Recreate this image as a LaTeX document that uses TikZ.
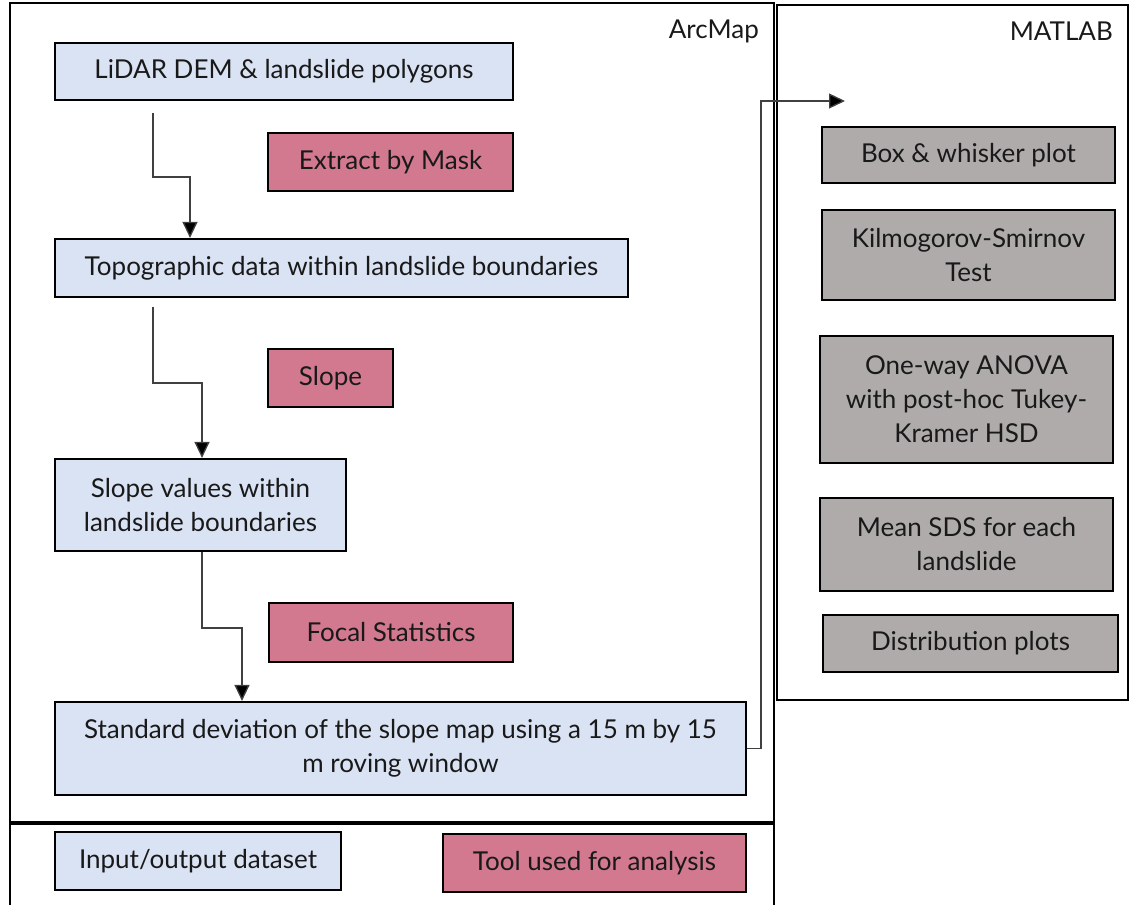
\documentclass[tikz,border=0pt]{standalone}
\usepackage{fontspec}
\setmainfont{Lato}
\usetikzlibrary{arrows.meta,calc}
\definecolor{ioblue}{RGB}{218,227,243}
\definecolor{toolpink}{RGB}{210,121,143}
\definecolor{matgray}{RGB}{175,171,171}
\begin{document}
\begin{tikzpicture}[x=1pt,y=-1pt,
  base/.style={draw=black,line width=2.2pt,rectangle,inner sep=0pt,align=center,
    font=\fontsize{26}{34}\selectfont,text=black!90},
  iobox/.style={base,fill=ioblue},
  toolbox/.style={base,fill=toolpink},
  matbox/.style={base,fill=matgray},
  frame/.style={draw=black,line width=2.6pt},
  conn/.style={draw=black!75,line width=1.3pt,-{Triangle[length=16pt,width=15pt,fill=black]}},
  lbl/.style={font=\fontsize{26}{34}\selectfont,anchor=east,inner sep=0pt,text=black!90}]
\useasboundingbox (0,0) rectangle (1134,905);
% frames
\draw[frame] (10,3) rectangle (774,823);
\draw[frame,line width=3.4pt] (10,823) -- (774,823);
\draw[frame] (10,823) -- (10,905);
\draw[frame] (774,823) -- (774,905);
\draw[frame,line width=2pt] (777,5) rectangle (1128,700);
\node[lbl] (arcmap) at (759,31) {ArcMap};
\node[lbl] (matlab) at (1113,31) {MATLAB};
% ArcMap nodes
\node[iobox,minimum width=458pt,minimum height=57pt] (lidar) at (284,71.5) {LiDAR DEM \& landslide polygons};
\node[toolbox,minimum width=245pt,minimum height=58pt] (extract) at (390.5,162) {Extract by Mask};
\node[iobox,minimum width=573pt,minimum height=58pt] (topo) at (341.5,268) {Topographic data within landslide boundaries};
\node[toolbox,minimum width=125pt,minimum height=58pt] (slope) at (330.5,378) {Slope};
\node[iobox,minimum width=291pt,minimum height=92pt] (slopev) at (200.5,505) {Slope values within\\landslide boundaries};
\node[toolbox,minimum width=244pt,minimum height=59pt] (focal) at (391,632.5) {Focal Statistics};
\node[iobox,minimum width=691pt,minimum height=93pt] (std) at (400.5,748.5) {Standard deviation of the slope map using a 15 m by 15\\m roving window};
% legend
\node[iobox,minimum width=286pt,minimum height=58pt] (legio) at (198,861) {Input/output dataset};
\node[toolbox,minimum width=303pt,minimum height=58pt] (legtool) at (594.5,863) {Tool used for analysis};
% MATLAB nodes
\node[matbox,minimum width=293pt,minimum height=56pt] (box) at (968.5,155) {Box \& whisker plot};
\node[matbox,minimum width=293pt,minimum height=90pt] (ks) at (968.5,255) {Kilmogorov-Smirnov\\Test};
\node[matbox,minimum width=293pt,minimum height=127pt] (anova) at (966.5,399.5) {One-way ANOVA\\with post-hoc Tukey-\\Kramer HSD};
\node[matbox,minimum width=293pt,minimum height=93pt] (mean) at (966.5,544.5) {Mean SDS for each\\landslide};
\node[matbox,minimum width=295pt,minimum height=57pt] (dist) at (970.5,643.5) {Distribution plots};
% connectors
\coordinate (c1) at (153,113);
\coordinate (c2) at (190,177);
\draw[conn] (c1) |- (c2) -- (c2 |- topo.north);
\coordinate (c3) at (153,307);
\coordinate (c4) at (202,383);
\draw[conn] (c3) |- (c4) -- (c4 |- slopev.north);
\coordinate (c5) at (202,628);
\coordinate (c6) at (242,628);
\draw[conn] (c5 |- slopev.south) -- (c5) -- (c6) -- (c6 |- std.north);
\coordinate (c7) at (761,101);
\coordinate (c8) at (845,101);
\draw[conn] (std.east) -| (c7) -- (c8);
\end{tikzpicture}
\end{document}
